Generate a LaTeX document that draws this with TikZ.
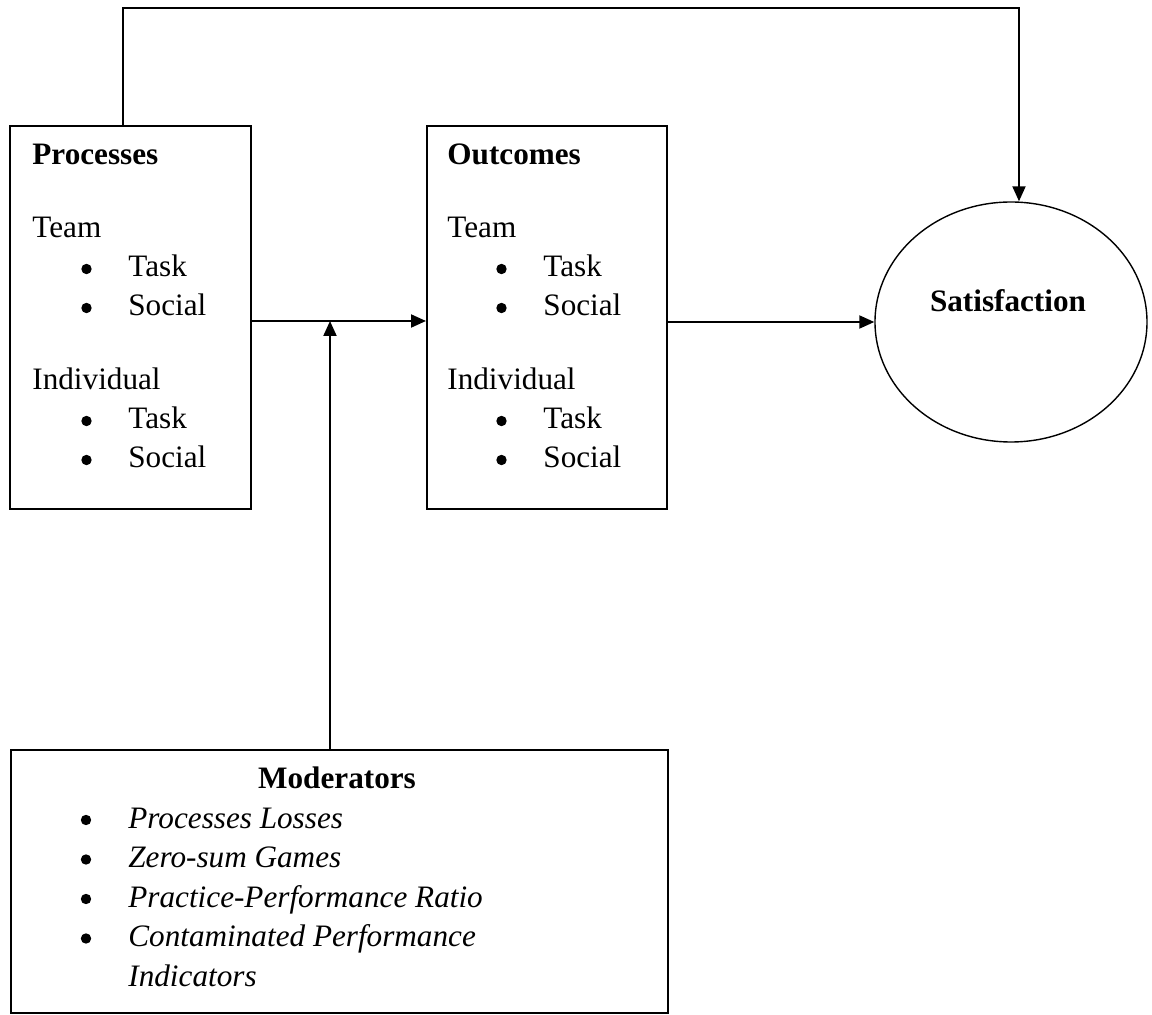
\documentclass[tikz,border=0pt]{standalone}
\usepackage{fontspec}
\setmainfont{Liberation Serif}
\usetikzlibrary{calc}
\usetikzlibrary{arrows.meta}
\usetikzlibrary{shapes.geometric}
\newcommand{\fs}{\fontsize{15.6pt}{19.5pt}\selectfont}

\begin{document}
\begin{tikzpicture}[x=0.5pt,y=-0.5pt,
    box/.style={draw,line width=1pt,rectangle,inner sep=0pt},
    lbl/.style={anchor=base west,inner sep=0pt,font=\fs},
    dot/.style={circle,fill,inner sep=0pt,minimum size=5.2pt},
    arr/.style={line width=1pt,-{Triangle[length=7.5pt,width=6.5pt]}}]
    \path[use as bounding box] (0,0) rectangle (1152,1015);
    % Boxes.
    \node[box,minimum width=120.5pt,minimum height=191.5pt] (proc) at (130.5,317.5) {};
    \node[box,minimum width=120pt,minimum height=191.5pt] (outc) at (547,317.5) {};
    \node[box,minimum width=328.5pt,minimum height=131.5pt] (mod) at (339.5,881.5) {};
    \node[draw,ellipse,line width=0.7pt,inner sep=0pt,minimum width=136pt,minimum height=120pt] (sat) at (1011,322) {};
    % Box texts.
    \foreach \bx/\x/\title in {proc/32/Processes, outc/447/Outcomes} {
      \node[lbl,font=\fs\bfseries] (\bx-title) at (\x,165) {\title};
      \node[lbl] (\bx-team) at (\x,238) {Team};
      \node[lbl] (\bx-ind) at (\x,390) {Individual};
      \foreach \y/\t [count=\i] in {277/Task, 316/Social, 429/Task, 468/Social} {
        \node[dot] (\bx-dot-\i) at (\x+54.5,\y-8) {};
        \node[lbl] (\bx-item-\i) at (\x+96,\y) {\t};
      }
    }
    \node[lbl,anchor=base,font=\fs\bfseries] (sat-title) at (1008,312) {Satisfaction};
    % Moderators.
    \node[lbl,anchor=base,font=\fs\bfseries] (mod-title) at (337,789) {Moderators};
    \foreach \y/\t [count=\i] in {828/Processes Losses, 867.5/Zero-sum Games,
        907/Practice-Performance Ratio, 946.5/Contaminated Performance} {
      \node[dot] (mod-dot-\i) at (86,\y-8) {};
      \node[lbl,font=\fs\itshape] (mod-item-\i) at (128,\y) {\t};
    }
    \node[lbl,font=\fs\itshape] (mod-item-5) at (128,986) {Indicators};
    % Arrows.
    \coordinate (join) at (330,321);
    \coordinate (turn) at (123,8);
    \coordinate (drop) at (1019,8);
    \draw[arr] (proc.east |- join) -- (outc.west |- join);
    \draw[arr] (mod.north -| join) -- (join);
    \draw[arr] (outc.east |- sat.west) -- (sat.west);
    \draw[arr] (proc.north -| turn) -- (turn) -- (drop) -- (sat.north -| drop);
  \end{tikzpicture}
\end{document}
